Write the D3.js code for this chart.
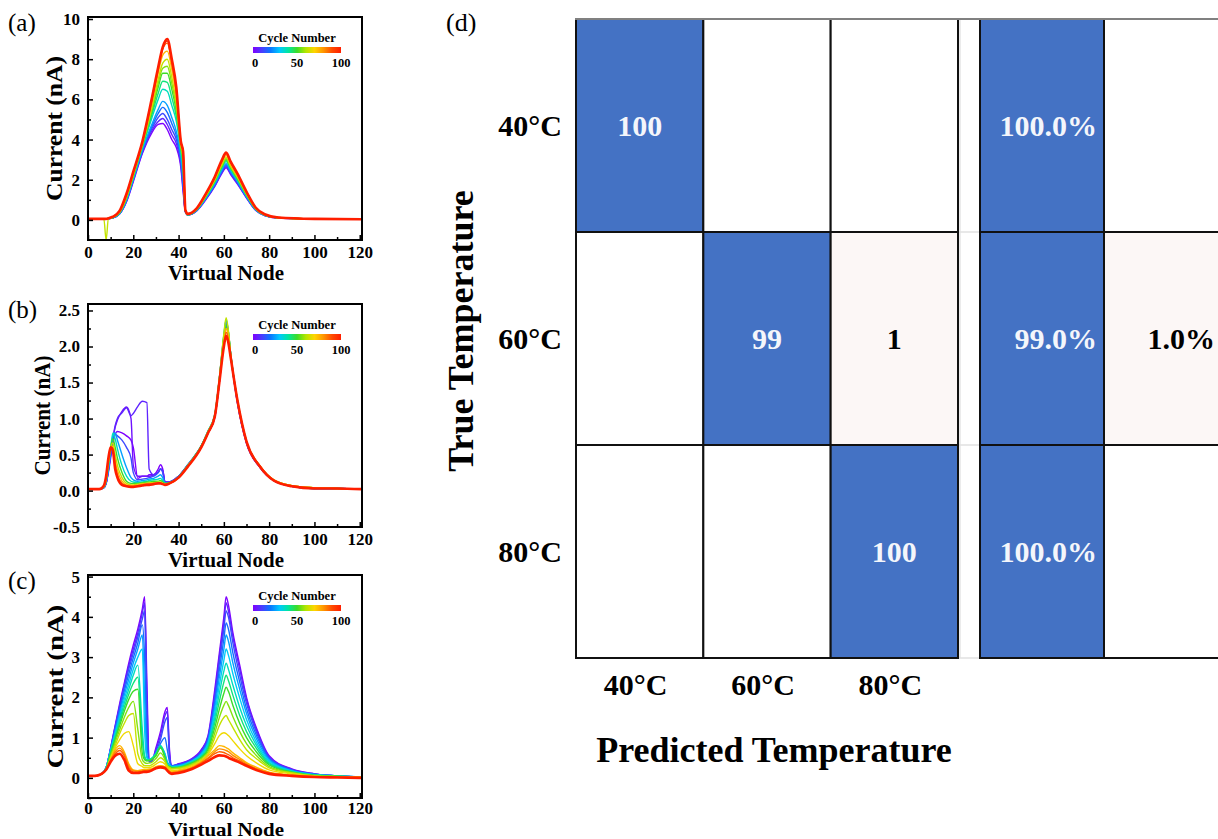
<!DOCTYPE html>
<html>
<head>
<meta charset="utf-8">
<script src="https://cdnjs.cloudflare.com/ajax/libs/d3/7.8.5/d3.min.js"></script>
<style>
  body { margin: 0; background: #fff; }
  svg { display: block; }
  text { font-family: 'Liberation Serif', 'Times New Roman', serif; }
</style>
</head>
<body>
<svg id="chart" width="1218" height="839"></svg>
<script>
// colour map used by the cycle legend (violet -> red)
var rainbowStops = ['#7f00ff', '#4a3cff', '#0a78ff', '#00c8ff', '#00e6a0', '#3cdc28', '#b4e600', '#ffd400', '#ff9600', '#ff4a00', '#ff1e00'];
var legendTicks = [0, 50, 100];

// shared x ticks
var xTicks = [0, 20, 40, 60, 80, 100, 120];
var xTicksB = [20, 40, 60, 80, 100, 120];
var xMinor = [10, 30, 50, 70, 90, 110];

// (a) current vs virtual node, one row per cycle
var nodesA = [0, 4, 7, 8, 9, 11, 14, 17, 20, 24, 28, 31, 33, 35, 37, 39, 41, 42, 43, 44, 48, 52, 56, 59, 61, 63, 66, 70, 74, 78, 84, 100, 121];
var cyclesA = [0, 6, 12, 18, 25, 37, 43, 50, 56, 62, 75, 87, 93, 100];
var currentA = [
  [0.05, 0.05, 0.05, 0.05, 0.06, 0.1, 0.3, 0.9, 1.9, 3.3, 4.3, 4.75, 4.8, 4.5, 4.0, 3.6, 2.6, 1.4, 0.4, 0.25, 0.45, 1.0, 1.67, 2.29, 2.6, 2.25, 1.78, 1.09, 0.48, 0.22, 0.09, 0.05, 0.03],
  [0.05, 0.05, 0.05, 0.05, 0.06, 0.1, 0.3, 0.92, 1.95, 3.35, 4.4, 4.9, 5.05, 4.75, 4.25, 3.8, 2.75, 1.55, 0.4, 0.25, 0.46, 1.02, 1.7, 2.33, 2.65, 2.3, 1.82, 1.11, 0.49, 0.22, 0.09, 0.05, 0.03],
  [0.05, 0.05, 0.05, 0.05, 0.06, 0.1, 0.31, 0.95, 2.0, 3.4, 4.5, 5.1, 5.3, 5.0, 4.5, 4.0, 2.9, 1.7, 0.4, 0.25, 0.47, 1.05, 1.73, 2.38, 2.7, 2.34, 1.85, 1.13, 0.5, 0.23, 0.1, 0.05, 0.03],
  [0.05, 0.05, 0.05, 0.05, 0.06, 0.1, 0.32, 0.97, 2.02, 3.45, 4.6, 5.3, 5.6, 5.35, 4.8, 4.2, 3.05, 1.85, 0.42, 0.25, 0.47, 1.07, 1.76, 2.42, 2.75, 2.38, 1.88, 1.15, 0.51, 0.23, 0.1, 0.05, 0.03],
  [0.05, 0.05, 0.05, 0.05, 0.06, 0.11, 0.33, 1.0, 2.05, 3.5, 4.7, 5.5, 5.9, 5.7, 5.1, 4.4, 3.2, 2.0, 0.45, 0.25, 0.48, 1.09, 1.8, 2.47, 2.8, 2.42, 1.92, 1.17, 0.52, 0.23, 0.1, 0.05, 0.03],
  [0.05, 0.05, 0.05, 0.05, 0.07, 0.12, 0.35, 1.05, 2.1, 3.6, 5.0, 6.0, 6.5, 6.4, 5.7, 4.9, 3.4, 2.4, 0.45, 0.26, 0.5, 1.13, 1.86, 2.55, 2.9, 2.51, 1.99, 1.21, 0.54, 0.24, 0.1, 0.05, 0.03],
  [0.05, 0.05, 0.05, 0.05, 0.07, 0.12, 0.36, 1.08, 2.15, 3.65, 5.15, 6.3, 6.9, 6.85, 6.1, 5.15, 3.5, 2.6, 0.48, 0.26, 0.51, 1.15, 1.9, 2.6, 2.95, 2.55, 2.02, 1.23, 0.55, 0.24, 0.1, 0.05, 0.03],
  [0.05, 0.05, 0.05, 0.05, 0.07, 0.13, 0.37, 1.1, 2.2, 3.7, 5.3, 6.6, 7.3, 7.3, 6.5, 5.4, 3.6, 2.8, 0.5, 0.27, 0.52, 1.16, 1.93, 2.64, 3.0, 2.6, 2.06, 1.25, 0.56, 0.25, 0.11, 0.05, 0.03],
  [0.05, 0.05, 0.05, 0.05, 0.07, 0.13, 0.38, 1.12, 2.22, 3.72, 5.4, 6.8, 7.55, 7.65, 6.8, 5.6, 3.65, 2.95, 0.5, 0.27, 0.53, 1.18, 1.96, 2.68, 3.05, 2.64, 2.1, 1.28, 0.56, 0.25, 0.11, 0.05, 0.03],
  [0.05, 0.05, 0.05, -1.0, 0.07, 0.14, 0.4, 1.15, 2.25, 3.75, 5.5, 7.0, 7.8, 8.0, 7.1, 5.8, 3.7, 3.1, 0.5, 0.28, 0.54, 1.2, 1.99, 2.73, 3.1, 2.68, 2.13, 1.3, 0.57, 0.26, 0.11, 0.05, 0.03],
  [0.05, 0.05, 0.05, 0.05, 0.07, 0.14, 0.42, 1.2, 2.3, 3.8, 5.7, 7.3, 8.2, 8.4, 7.5, 6.1, 3.8, 3.3, 0.5, 0.29, 0.55, 1.24, 2.05, 2.82, 3.2, 2.77, 2.2, 1.34, 0.59, 0.27, 0.11, 0.05, 0.03],
  [0.05, 0.05, 0.05, 0.05, 0.08, 0.15, 0.44, 1.25, 2.35, 3.85, 5.85, 7.5, 8.5, 8.8, 7.8, 6.4, 3.9, 3.4, 0.5, 0.3, 0.57, 1.28, 2.12, 2.9, 3.3, 2.86, 2.27, 1.38, 0.61, 0.28, 0.12, 0.05, 0.03],
  [0.05, 0.05, 0.05, 0.05, 0.08, 0.15, 0.45, 1.28, 2.38, 3.88, 5.9, 7.55, 8.55, 8.9, 7.9, 6.5, 3.9, 3.4, 0.5, 0.3, 0.58, 1.29, 2.13, 2.92, 3.32, 2.88, 2.28, 1.39, 0.61, 0.28, 0.12, 0.05, 0.03],
  [0.05, 0.05, 0.05, 0.05, 0.08, 0.16, 0.46, 1.3, 2.4, 3.9, 5.95, 7.6, 8.6, 9.0, 8.0, 6.6, 3.9, 3.4, 0.5, 0.3, 0.58, 1.3, 2.15, 2.95, 3.35, 2.9, 2.3, 1.4, 0.62, 0.28, 0.12, 0.05, 0.03]
];
var yTicksA = [0, 2, 4, 6, 8, 10];
var yMinorA = [1, 3, 5, 7, 9];

// (b)
var nodesB = [0, 5, 7, 8, 9, 10, 11, 12, 13, 15, 17, 19, 20, 22, 24, 26, 27, 29, 31, 32, 33, 34, 36, 40, 44, 50, 53, 56, 58, 60, 61, 62, 63, 66, 70, 76, 82, 90, 100, 110, 121];
var cyclesB = [0, 3, 6, 12, 25, 37, 50, 62, 75, 87, 100];
var currentB = [
  [0.02, 0.02, 0.04, 0.1, 0.25, 0.45, 0.65, 0.78, 0.82, 0.8, 0.76, 0.7, 0.6, 0.17, 0.2, 0.2, 0.22, 0.22, 0.3, 0.36, 0.3, 0.12, 0.12, 0.2, 0.35, 0.6, 0.8, 1.02, 1.5, 2.1, 2.32, 2.15, 1.88, 1.22, 0.66, 0.32, 0.14, 0.06, 0.03, 0.03, 0.02],
  [0.02, 0.02, 0.04, 0.1, 0.28, 0.5, 0.72, 0.88, 0.98, 1.1, 1.16, 1.0, 0.35, 0.2, 0.2, 0.2, 0.2, 0.22, 0.26, 0.3, 0.28, 0.12, 0.12, 0.2, 0.35, 0.6, 0.8, 1.02, 1.5, 2.1, 2.3, 2.15, 1.88, 1.22, 0.66, 0.32, 0.14, 0.06, 0.03, 0.03, 0.02],
  [0.02, 0.02, 0.04, 0.1, 0.28, 0.5, 0.72, 0.9, 1.0, 1.08, 1.15, 1.04, 1.07, 1.17, 1.24, 1.22, 0.3, 0.22, 0.25, 0.3, 0.27, 0.12, 0.12, 0.2, 0.35, 0.6, 0.8, 1.02, 1.5, 2.1, 2.3, 2.15, 1.88, 1.22, 0.66, 0.32, 0.14, 0.06, 0.03, 0.03, 0.02],
  [0.02, 0.02, 0.04, 0.1, 0.28, 0.5, 0.7, 0.78, 0.76, 0.7, 0.6, 0.45, 0.25, 0.15, 0.16, 0.17, 0.18, 0.2, 0.25, 0.3, 0.25, 0.1, 0.12, 0.2, 0.36, 0.62, 0.82, 1.05, 1.55, 2.15, 2.36, 2.2, 1.9, 1.24, 0.67, 0.33, 0.14, 0.06, 0.03, 0.03, 0.02],
  [0.02, 0.02, 0.04, 0.12, 0.3, 0.55, 0.75, 0.8, 0.7, 0.5, 0.32, 0.18, 0.15, 0.13, 0.14, 0.15, 0.16, 0.17, 0.2, 0.22, 0.18, 0.1, 0.11, 0.19, 0.35, 0.62, 0.82, 1.05, 1.55, 2.12, 2.3, 2.18, 1.9, 1.25, 0.68, 0.33, 0.14, 0.06, 0.03, 0.03, 0.02],
  [0.02, 0.02, 0.05, 0.13, 0.33, 0.58, 0.8, 0.72, 0.58, 0.35, 0.2, 0.13, 0.12, 0.11, 0.12, 0.13, 0.14, 0.15, 0.16, 0.17, 0.14, 0.1, 0.11, 0.19, 0.35, 0.62, 0.83, 1.06, 1.56, 2.16, 2.38, 2.2, 1.9, 1.25, 0.68, 0.33, 0.14, 0.06, 0.03, 0.03, 0.02],
  [0.02, 0.02, 0.05, 0.14, 0.35, 0.6, 0.72, 0.6, 0.45, 0.25, 0.13, 0.1, 0.1, 0.1, 0.11, 0.12, 0.12, 0.13, 0.13, 0.14, 0.12, 0.1, 0.11, 0.19, 0.35, 0.62, 0.82, 1.05, 1.55, 2.12, 2.3, 2.2, 1.9, 1.26, 0.69, 0.34, 0.15, 0.07, 0.04, 0.03, 0.02],
  [0.02, 0.02, 0.05, 0.15, 0.38, 0.6, 0.66, 0.5, 0.35, 0.18, 0.1, 0.08, 0.08, 0.09, 0.1, 0.1, 0.11, 0.11, 0.12, 0.12, 0.1, 0.09, 0.1, 0.18, 0.34, 0.61, 0.82, 1.05, 1.56, 2.18, 2.4, 2.22, 1.9, 1.25, 0.68, 0.34, 0.15, 0.07, 0.04, 0.03, 0.02],
  [0.02, 0.02, 0.06, 0.17, 0.4, 0.6, 0.62, 0.42, 0.28, 0.13, 0.08, 0.07, 0.07, 0.08, 0.09, 0.1, 0.1, 0.1, 0.11, 0.11, 0.1, 0.09, 0.1, 0.18, 0.34, 0.6, 0.8, 1.03, 1.52, 2.05, 2.25, 2.15, 1.88, 1.25, 0.68, 0.34, 0.15, 0.07, 0.04, 0.03, 0.02],
  [0.02, 0.02, 0.06, 0.18, 0.42, 0.6, 0.58, 0.36, 0.22, 0.1, 0.07, 0.06, 0.06, 0.07, 0.08, 0.09, 0.09, 0.1, 0.1, 0.1, 0.09, 0.08, 0.1, 0.18, 0.33, 0.6, 0.8, 1.03, 1.5, 2.02, 2.2, 2.1, 1.86, 1.25, 0.68, 0.34, 0.15, 0.07, 0.04, 0.03, 0.02],
  [0.02, 0.02, 0.07, 0.2, 0.45, 0.6, 0.55, 0.3, 0.18, 0.08, 0.06, 0.05, 0.05, 0.06, 0.07, 0.08, 0.08, 0.09, 0.1, 0.1, 0.09, 0.08, 0.1, 0.18, 0.33, 0.6, 0.8, 1.03, 1.5, 2.0, 2.15, 2.05, 1.85, 1.25, 0.68, 0.33, 0.14, 0.06, 0.03, 0.03, 0.02]
];
var yTicksB = [-0.5, 0, 0.5, 1, 1.5, 2, 2.5];
var yMinorB = [-0.25, 0.25, 0.75, 1.25, 1.75, 2.25];

// (c)
var nodesC = [0, 3, 6, 8, 10, 12, 14, 16, 18, 20, 22, 24, 25, 26, 27, 28, 30, 32, 34, 35, 36, 37, 40, 45, 50, 53, 56, 58, 60, 61, 62, 64, 67, 70, 75, 80, 90, 100, 110, 121];
var cyclesC = [0, 6, 12, 18, 25, 31, 37, 43, 50, 56, 62, 68, 75, 81, 87, 100];
var currentC = [
  [0.05, 0.05, 0.1, 0.25, 0.75, 1.3, 1.85, 2.35, 2.85, 3.3, 3.7, 4.2, 4.5, 2.4, 0.4, 0.4, 0.75, 1.15, 1.65, 1.75, 0.7, 0.3, 0.35, 0.45, 0.7, 1.05, 2.2, 3.1, 4.0, 4.5, 4.3, 3.6, 2.8, 2.0, 1.15, 0.55, 0.22, 0.1, 0.05, 0.02],
  [0.05, 0.05, 0.1, 0.25, 0.74, 1.28, 1.8, 2.3, 2.78, 3.2, 3.6, 4.1, 4.35, 2.0, 0.4, 0.41, 0.7, 1.05, 1.55, 1.65, 0.6, 0.3, 0.34, 0.44, 0.68, 1.02, 2.1, 3.0, 3.85, 4.35, 4.15, 3.5, 2.7, 1.95, 1.1, 0.52, 0.21, 0.1, 0.05, 0.02],
  [0.05, 0.05, 0.1, 0.25, 0.72, 1.25, 1.75, 2.25, 2.7, 3.1, 3.5, 3.95, 4.15, 1.5, 0.4, 0.42, 0.65, 0.95, 1.4, 1.5, 0.5, 0.3, 0.33, 0.42, 0.65, 0.98, 2.0, 2.85, 3.7, 4.15, 4.0, 3.35, 2.55, 1.85, 1.05, 0.5, 0.2, 0.09, 0.05, 0.02],
  [0.05, 0.05, 0.1, 0.25, 0.71, 1.2, 1.68, 2.15, 2.58, 2.98, 3.35, 3.8, 3.0, 0.9, 0.45, 0.45, 0.6, 0.85, 1.0, 0.7, 0.4, 0.3, 0.32, 0.41, 0.62, 0.94, 1.88, 2.68, 3.45, 3.85, 3.7, 3.1, 2.38, 1.72, 0.98, 0.48, 0.19, 0.09, 0.05, 0.02],
  [0.05, 0.05, 0.1, 0.25, 0.7, 1.15, 1.6, 2.05, 2.45, 2.85, 3.2, 3.55, 2.0, 0.55, 0.45, 0.48, 0.58, 0.75, 0.6, 0.4, 0.32, 0.28, 0.3, 0.4, 0.6, 0.9, 1.75, 2.5, 3.2, 3.55, 3.4, 2.85, 2.2, 1.6, 0.9, 0.45, 0.18, 0.08, 0.05, 0.02],
  [0.05, 0.05, 0.1, 0.25, 0.68, 1.1, 1.52, 1.95, 2.32, 2.7, 3.0, 3.2, 1.2, 0.5, 0.45, 0.47, 0.6, 0.8, 0.58, 0.38, 0.31, 0.28, 0.29, 0.39, 0.58, 0.85, 1.62, 2.3, 2.92, 3.2, 3.05, 2.58, 1.98, 1.45, 0.82, 0.42, 0.17, 0.08, 0.05, 0.02],
  [0.05, 0.05, 0.1, 0.25, 0.65, 1.05, 1.45, 1.85, 2.2, 2.55, 2.8, 1.2, 0.55, 0.45, 0.45, 0.48, 0.6, 0.8, 0.55, 0.35, 0.3, 0.27, 0.28, 0.38, 0.55, 0.8, 1.5, 2.1, 2.65, 2.85, 2.7, 2.3, 1.75, 1.3, 0.75, 0.38, 0.16, 0.07, 0.04, 0.02],
  [0.05, 0.05, 0.1, 0.24, 0.62, 1.0, 1.38, 1.75, 2.08, 2.35, 2.5, 0.9, 0.5, 0.44, 0.44, 0.46, 0.58, 0.78, 0.52, 0.32, 0.29, 0.26, 0.27, 0.36, 0.52, 0.75, 1.38, 1.9, 2.38, 2.55, 2.42, 2.05, 1.55, 1.15, 0.68, 0.35, 0.15, 0.07, 0.04, 0.02],
  [0.05, 0.05, 0.1, 0.22, 0.6, 0.95, 1.3, 1.65, 1.95, 2.15, 2.2, 0.6, 0.45, 0.42, 0.43, 0.45, 0.55, 0.75, 0.5, 0.3, 0.28, 0.25, 0.26, 0.35, 0.5, 0.7, 1.25, 1.7, 2.1, 2.25, 2.15, 1.8, 1.35, 1.0, 0.6, 0.32, 0.14, 0.06, 0.04, 0.02],
  [0.05, 0.05, 0.1, 0.21, 0.55, 0.88, 1.2, 1.5, 1.75, 1.9, 1.2, 0.45, 0.38, 0.36, 0.37, 0.38, 0.48, 0.62, 0.45, 0.3, 0.26, 0.23, 0.25, 0.32, 0.48, 0.65, 1.12, 1.5, 1.8, 1.9, 1.8, 1.52, 1.15, 0.85, 0.52, 0.28, 0.13, 0.05, 0.03, 0.02],
  [0.05, 0.05, 0.1, 0.2, 0.5, 0.8, 1.1, 1.35, 1.55, 1.6, 0.6, 0.35, 0.3, 0.3, 0.3, 0.32, 0.4, 0.5, 0.4, 0.3, 0.25, 0.22, 0.23, 0.3, 0.45, 0.6, 1.0, 1.3, 1.5, 1.55, 1.45, 1.25, 0.95, 0.7, 0.45, 0.25, 0.12, 0.05, 0.03, 0.02],
  [0.05, 0.05, 0.1, 0.2, 0.48, 0.75, 0.95, 1.1, 1.15, 0.8, 0.35, 0.28, 0.25, 0.25, 0.26, 0.27, 0.34, 0.4, 0.34, 0.26, 0.22, 0.18, 0.2, 0.28, 0.42, 0.58, 0.85, 1.05, 1.12, 1.1, 1.05, 0.92, 0.72, 0.55, 0.35, 0.2, 0.1, 0.04, 0.02, 0.01],
  [0.05, 0.05, 0.1, 0.2, 0.45, 0.7, 0.8, 0.65, 0.35, 0.2, 0.18, 0.2, 0.2, 0.2, 0.22, 0.22, 0.28, 0.3, 0.28, 0.22, 0.18, 0.15, 0.18, 0.25, 0.4, 0.55, 0.7, 0.8, 0.78, 0.75, 0.72, 0.62, 0.5, 0.38, 0.25, 0.14, 0.07, 0.03, 0.02, 0.01],
  [0.05, 0.05, 0.1, 0.2, 0.44, 0.65, 0.74, 0.6, 0.3, 0.18, 0.16, 0.18, 0.18, 0.18, 0.2, 0.21, 0.26, 0.29, 0.27, 0.21, 0.16, 0.13, 0.16, 0.23, 0.38, 0.5, 0.65, 0.72, 0.7, 0.68, 0.65, 0.56, 0.46, 0.35, 0.22, 0.13, 0.06, 0.03, 0.02, 0.01],
  [0.05, 0.05, 0.1, 0.2, 0.42, 0.6, 0.68, 0.55, 0.25, 0.15, 0.14, 0.16, 0.17, 0.17, 0.18, 0.2, 0.25, 0.28, 0.26, 0.2, 0.15, 0.12, 0.15, 0.22, 0.37, 0.48, 0.6, 0.65, 0.63, 0.6, 0.58, 0.5, 0.42, 0.32, 0.2, 0.12, 0.06, 0.03, 0.02, 0.01],
  [0.05, 0.05, 0.1, 0.2, 0.4, 0.55, 0.6, 0.45, 0.18, 0.12, 0.12, 0.14, 0.15, 0.15, 0.16, 0.18, 0.24, 0.26, 0.24, 0.18, 0.12, 0.1, 0.12, 0.2, 0.33, 0.42, 0.52, 0.56, 0.55, 0.53, 0.5, 0.45, 0.38, 0.3, 0.18, 0.1, 0.05, 0.02, 0.01, 0.0]
];
var yTicksC = [0, 1, 2, 3, 4, 5];
var yMinorC = [-0.5, 0.5, 1.5, 2.5, 3.5, 4.5];

// (d) confusion matrix
var tempLabels = ['40°C', '60°C', '80°C'];
var confusionCounts = [
  [100, 0, 0],
  [0, 99, 1],
  [0, 0, 100]
];
var summaryColumns = ['correct', 'wrong'];
var rowPercents = [
  [100.0, 0],
  [99.0, 1.0],
  [100.0, 0]
];

var serif = "'Liberation Serif', 'Times New Roman', serif";
var svg = d3.select('#chart');
svg.append('rect').attr('width', 1218).attr('height', 839).attr('fill', '#fff');
var defs = svg.append('defs');

var colorScale = d3.scaleLinear()
  .domain(rainbowStops.map(function(c, i) { return i * 100 / (rainbowStops.length - 1); }))
  .range(rainbowStops)
  .interpolate(d3.interpolateRgb);

var grad = defs.append('linearGradient').attr('id', 'rainbow');
grad.selectAll('stop')
  .data(rainbowStops)
  .enter().append('stop')
  .attr('offset', function(c, i) { return (i * 100 / (rainbowStops.length - 1)) + '%'; })
  .attr('stop-color', function(c) { return c; });

var panels = [
  { id: 'a', nodes: nodesA, cycles: cyclesA, current: currentA, top: 17, bottom: 240, yDomain: [-1, 10.1],
    yTicks: yTicksA, yMinor: yMinorA, xTicks: xTicks, fmt: d3.format('d'), labelX: 54, labelLen: 145,
    titleY: 280, titleSize: 21, tickPad: 6 },
  { id: 'b', nodes: nodesB, cycles: cyclesB, current: currentB, top: 304, bottom: 527, yDomain: [-0.505, 2.59],
    yTicks: yTicksB, yMinor: yMinorB, xTicks: xTicksB, fmt: function(d) { return d.toFixed(1); }, labelX: 42, labelLen: 120,
    titleY: 567, titleSize: 21, tickPad: 6 },
  { id: 'c', nodes: nodesC, cycles: cyclesC, current: currentC, top: 575, bottom: 798, yDomain: [-0.5, 5.04],
    yTicks: yTicksC, yMinor: yMinorC, xTicks: xTicks, fmt: d3.format('d'), labelX: 55, labelLen: 164,
    titleY: 836, titleSize: 19.5, tickPad: 4 }
];

var plotLeft = 88, plotRight = 362;

panels.forEach(function(p) {
  var x = d3.scaleLinear().domain([0, 121]).range([plotLeft, plotRight]);
  var y = d3.scaleLinear().domain(p.yDomain).range([p.bottom, p.top]);
  var g = svg.append('g').attr('class', 'panel-' + p.id);

  defs.append('clipPath').attr('id', 'clip-' + p.id)
    .append('rect')
    .attr('x', plotLeft).attr('y', p.top)
    .attr('width', plotRight - plotLeft).attr('height', p.bottom - p.top);

  var line = d3.line()
    .x(function(d) { return x(d[0]); })
    .y(function(d) { return y(d[1]); })
    .curve(d3.curveMonotoneX);

  g.append('g')
    .attr('clip-path', 'url(#clip-' + p.id + ')')
    .selectAll('path')
    .data(p.cycles)
    .enter().append('path')
    .attr('d', function(c, k) { return line(d3.zip(p.nodes, p.current[k])); })
    .attr('fill', 'none')
    .attr('stroke', function(c) { return colorScale(c); })
    .attr('stroke-width', function(c) { return c === 100 ? 2.6 : 1.4; })
    .attr('stroke-linejoin', 'round');

  // axes, ticks pointing inward
  var styleAxis = function(sel) {
    sel.attr('font-family', serif).attr('font-size', 17).attr('font-weight', 'bold');
    sel.select('.domain').remove();
    sel.selectAll('line').attr('stroke', '#000').attr('stroke-width', 1.5);
  };

  g.append('g')
    .attr('transform', 'translate(0,' + p.bottom + ')')
    .call(d3.axisBottom(x).tickValues(p.xTicks).tickSizeInner(-5).tickSizeOuter(0).tickPadding(p.tickPad))
    .call(styleAxis);
  g.append('g')
    .attr('transform', 'translate(0,' + p.bottom + ')')
    .call(d3.axisBottom(x).tickValues(xMinor).tickSizeInner(-3).tickSizeOuter(0).tickFormat(''))
    .call(styleAxis);
  g.append('g')
    .attr('transform', 'translate(' + plotLeft + ',0)')
    .call(d3.axisLeft(y).tickValues(p.yTicks).tickFormat(p.fmt).tickSizeInner(-5).tickSizeOuter(0).tickPadding(8))
    .call(styleAxis);
  g.append('g')
    .attr('transform', 'translate(' + plotLeft + ',0)')
    .call(d3.axisLeft(y).tickValues(p.yMinor).tickSizeInner(-3).tickSizeOuter(0).tickFormat(''))
    .call(styleAxis);

  g.append('rect')
    .attr('x', plotLeft).attr('y', p.top)
    .attr('width', plotRight - plotLeft).attr('height', p.bottom - p.top)
    .attr('fill', 'none')
    .attr('stroke', '#000')
    .attr('stroke-width', 2);

  // axis titles
  g.append('text')
    .attr('x', (plotLeft + plotRight) / 2 + 1)
    .attr('y', p.titleY)
    .attr('text-anchor', 'middle')
    .attr('font-size', p.titleSize)
    .attr('font-weight', 'bold')
    .attr('textLength', 116)
    .attr('lengthAdjust', 'spacingAndGlyphs')
    .text('Virtual Node');

  g.append('text')
    .attr('transform', 'translate(' + (p.labelX + 8) + ',' + ((p.top + p.bottom) / 2) + ') rotate(-90)')
    .attr('text-anchor', 'middle')
    .attr('font-size', 23)
    .attr('font-weight', 'bold')
    .attr('textLength', p.labelLen)
    .attr('lengthAdjust', 'spacingAndGlyphs')
    .text('Current (nA)');

  g.append('text')
    .attr('x', 8)
    .attr('y', p.top + 14)
    .attr('font-size', 25)
    .text('(' + p.id + ')');

  // cycle number colour bar
  var barX = d3.scaleLinear().domain([0, 100]).range([253, 341]);
  var lg = g.append('g').attr('font-weight', 'bold');
  lg.append('text')
    .attr('x', 297)
    .attr('y', p.top + 25)
    .attr('text-anchor', 'middle')
    .attr('font-size', 12.5)
    .text('Cycle Number');
  lg.append('rect')
    .attr('x', barX(0)).attr('y', p.top + 30)
    .attr('width', barX(100) - barX(0)).attr('height', 6)
    .attr('fill', 'url(#rainbow)');
  lg.selectAll('.lt')
    .data(legendTicks)
    .enter().append('text')
    .attr('class', 'lt')
    .attr('x', function(d) { return barX(d) + (d === 0 ? 2 : 0); })
    .attr('y', p.top + 50)
    .attr('text-anchor', 'middle')
    .attr('font-size', 12.5)
    .text(function(d) { return d; });
});

// ---- (d) confusion matrix ----
var blue = '#4472c4', pink = '#fcf7f6';
var rowBand = d3.scaleBand().domain(tempLabels).range([19, 658]);
var colBand = d3.scaleBand().domain(tempLabels).range([576, 958]);
var sumBand = d3.scaleBand().domain(summaryColumns).range([980, 1228]);
var cellFill = function(v) { return v >= 50 ? blue : (v > 0 ? pink : '#fff'); };

var md = svg.append('g').attr('class', 'matrix');

// light guide lines in the gap between the two blocks
md.append('line')
  .attr('x1', 960).attr('x2', 960).attr('y1', 19).attr('y2', 658)
  .attr('stroke', '#e4e4e4').attr('stroke-width', 1.5);
md.selectAll('.gap')
  .data(tempLabels)
  .enter().append('line')
  .attr('class', 'gap')
  .attr('x1', 958).attr('x2', 980)
  .attr('y1', function(d) { return rowBand(d) + rowBand.bandwidth(); })
  .attr('y2', function(d) { return rowBand(d) + rowBand.bandwidth(); })
  .attr('stroke', '#e0e0e0').attr('stroke-width', 1.5);

var cells = [];
confusionCounts.forEach(function(row, r) {
  row.forEach(function(v, c) { cells.push({ r: r, c: c, v: v }); });
});
var sumCells = [];
rowPercents.forEach(function(row, r) {
  row.forEach(function(v, c) { sumCells.push({ r: r, c: c, v: v }); });
});

md.selectAll('.cell')
  .data(cells)
  .enter().append('rect')
  .attr('class', 'cell')
  .attr('x', function(d) { return colBand(tempLabels[d.c]); })
  .attr('y', function(d) { return rowBand(tempLabels[d.r]); })
  .attr('width', colBand.bandwidth())
  .attr('height', rowBand.bandwidth())
  .attr('fill', function(d) { return cellFill(d.v); })
  .attr('stroke', '#111')
  .attr('stroke-width', 2);

md.selectAll('.scell')
  .data(sumCells)
  .enter().append('rect')
  .attr('class', 'scell')
  .attr('x', function(d) { return sumBand(summaryColumns[d.c]); })
  .attr('y', function(d) { return rowBand(tempLabels[d.r]); })
  .attr('width', sumBand.bandwidth())
  .attr('height', rowBand.bandwidth())
  .attr('fill', function(d) { return cellFill(d.v); })
  .attr('stroke', '#111')
  .attr('stroke-width', 2);

// top border is grey in the original
md.append('line')
  .attr('x1', 575).attr('x2', 1218).attr('y1', 19).attr('y2', 19)
  .attr('stroke', '#808080').attr('stroke-width', 2);

md.selectAll('.ctext')
  .data(cells.filter(function(d) { return d.v > 0; }))
  .enter().append('text')
  .attr('class', 'ctext')
  .attr('x', function(d) { return colBand(tempLabels[d.c]) + colBand.bandwidth() / 2; })
  .attr('y', function(d) { return rowBand(tempLabels[d.r]) + rowBand.bandwidth() / 2; })
  .attr('dy', '0.35em')
  .attr('text-anchor', 'middle')
  .attr('font-size', 30)
  .attr('font-weight', 'bold')
  .attr('fill', function(d) { return d.v >= 50 ? '#f4f6fb' : '#000'; })
  .text(function(d) { return d.v; });

// the second summary column runs past the picture edge, so keep its text inside
md.selectAll('.stext')
  .data(sumCells.filter(function(d) { return d.v > 0; }))
  .enter().append('text')
  .attr('class', 'stext')
  .attr('x', function(d) { return Math.min(sumBand(summaryColumns[d.c]) + sumBand.bandwidth() - 7, 1215); })
  .attr('y', function(d) { return rowBand(tempLabels[d.r]) + rowBand.bandwidth() / 2; })
  .attr('dy', '0.35em')
  .attr('text-anchor', 'end')
  .attr('font-size', 30)
  .attr('font-weight', 'bold')
  .attr('fill', function(d) { return d.v >= 50 ? '#f4f6fb' : '#000'; })
  .text(function(d) { return d.v.toFixed(1) + '%'; });

md.selectAll('.rlabel')
  .data(tempLabels)
  .enter().append('text')
  .attr('class', 'rlabel')
  .attr('x', 562)
  .attr('y', function(d) { return rowBand(d) + rowBand.bandwidth() / 2; })
  .attr('dy', '0.35em')
  .attr('text-anchor', 'end')
  .attr('font-size', 30)
  .attr('font-weight', 'bold')
  .text(function(d) { return d; });

md.selectAll('.clabel')
  .data(tempLabels)
  .enter().append('text')
  .attr('class', 'clabel')
  .attr('x', function(d) { return colBand(d) + colBand.bandwidth() / 2 - 4; })
  .attr('y', 695)
  .attr('text-anchor', 'middle')
  .attr('font-size', 30)
  .attr('font-weight', 'bold')
  .text(function(d) { return d; });

md.append('text')
  .attr('x', 774)
  .attr('y', 762)
  .attr('text-anchor', 'middle')
  .attr('font-size', 36)
  .attr('font-weight', 'bold')
  .text('Predicted Temperature');

md.append('text')
  .attr('transform', 'translate(473,331) rotate(-90)')
  .attr('text-anchor', 'middle')
  .attr('font-size', 36)
  .attr('font-weight', 'bold')
  .text('True Temperature');

md.append('text')
  .attr('x', 446)
  .attr('y', 31)
  .attr('font-size', 26)
  .text('(d)');
</script>
</body>
</html>
